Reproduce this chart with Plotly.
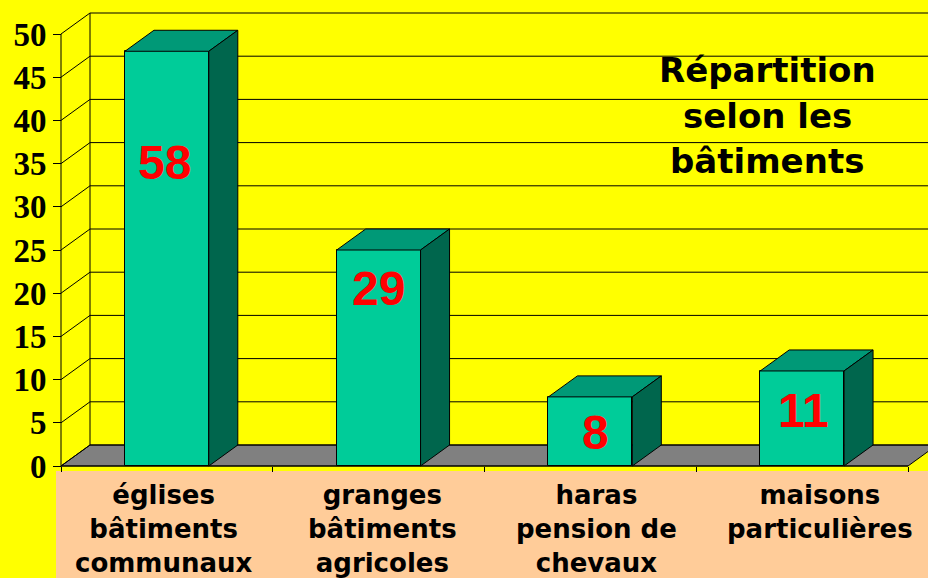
import plotly.graph_objects as go

# ---- data ----
CATEGORIES = ["églises<br>bâtiments<br>communaux",
              "granges<br>bâtiments<br>agricoles",
              "haras<br>pension de<br>chevaux",
              "maisons<br>particulières"]
BAR_VALUES = [48, 25, 8, 11]
BAR_LABELS = ["58", "29", "8", "11"]
Y_TICKS = [0, 5, 10, 15, 20, 25, 30, 35, 40, 45, 50]
TITLE_LINES = ["Répartition", "selon les", "bâtiments"]

# ---- geometry / style ----
W, H = 928, 578
ML, MR, MT, MB = 58, 0, 12, 110
PX_CAT = 211.75          # px per category
PX_Y = 8.64              # px per y unit
DX = 29 / PX_CAT         # depth offset (x units)
DY = 21 / PX_Y           # depth offset (y units)
BAR_W = 0.396
plot_w = W - ML - MR
plot_h = H - MT - MB
x0 = -0.5 - 3 / PX_CAT
x1 = x0 + plot_w / PX_CAT
y0 = -2 / PX_Y
y1 = y0 + plot_h / PX_Y

FRONT = "#00CC99"
TOP = "#009977"
SIDE = "#00664D"
YELLOW = "#FFFF00"
PEACH = "#FFCC99"
FLOOR = "#808080"
LABEL_DROP = [12.9, 4.4, 4.1, 4.6]
LABEL_XSHIFT = [-2, 0, 5, 1]
CAT_XSHIFT = [-3, 4, 6, 18]
TITLE_Y_PX = [70, 116, 161]

xs = list(range(len(BAR_VALUES)))
xmin_cat, xmax_cat = -0.5, len(BAR_VALUES) - 0.5

fig = go.Figure()

shapes = []
# peach label band
shapes.append(dict(type="rect", xref="paper", yref="paper",
                   x0=(56 - ML) / plot_w, x1=1.05,
                   y0=-(3 / plot_h), y1=-0.4,
                   fillcolor=PEACH, line=dict(width=0), layer="below"))
# floor
shapes.append(dict(type="path", xref="x", yref="y",
                   path=f"M {xmin_cat},0 L {xmax_cat},0 L {xmax_cat+DX},{DY} L {xmin_cat+DX},{DY} Z",
                   fillcolor=FLOOR, line=dict(color="black", width=1), layer="below"))
# back wall gridlines + left wall diagonals
for t in Y_TICKS:
    shapes.append(dict(type="line", xref="x", yref="y",
                       x0=xmin_cat + DX, x1=xmax_cat + DX + 1, y0=t + DY, y1=t + DY,
                       line=dict(color="black", width=1), layer="below"))
    shapes.append(dict(type="line", xref="x", yref="y",
                       x0=xmin_cat, x1=xmin_cat + DX, y0=t, y1=t + DY,
                       line=dict(color="black", width=1), layer="below"))
# left wall back edge and front axis line
shapes.append(dict(type="line", xref="x", yref="y",
                   x0=xmin_cat + DX, x1=xmin_cat + DX, y0=DY, y1=Y_TICKS[-1] + DY,
                   line=dict(color="black", width=1), layer="below"))
shapes.append(dict(type="line", xref="x", yref="y",
                   x0=xmin_cat, x1=xmin_cat, y0=0, y1=Y_TICKS[-1],
                   line=dict(color="black", width=1), layer="below"))
shapes.append(dict(type="line", xref="x", yref="y",
                   x0=xmin_cat, x1=xmax_cat, y0=0, y1=0,
                   line=dict(color="black", width=1), layer="below"))

# front faces
fig.add_trace(go.Bar(x=xs, y=BAR_VALUES, width=BAR_W,
                     marker=dict(color=FRONT, line=dict(color="black", width=1)),
                     hoverinfo="skip", showlegend=False))

# top and side faces
for x, v in zip(xs, BAR_VALUES):
    l, r = x - BAR_W / 2, x + BAR_W / 2
    fig.add_trace(go.Scatter(x=[l, l + DX, r + DX, r, l], y=[v, v + DY, v + DY, v, v],
                             mode="lines", fill="toself", fillcolor=TOP,
                             line=dict(color="black", width=1),
                             hoverinfo="skip", showlegend=False))
    fig.add_trace(go.Scatter(x=[r, r, r + DX, r + DX, r], y=[0, v, v + DY, DY, 0],
                             mode="lines", fill="toself", fillcolor=SIDE,
                             line=dict(color="black", width=1),
                             hoverinfo="skip", showlegend=False))

annotations = []
for x, v, lab, d, xs_ in zip(xs, BAR_VALUES, BAR_LABELS, LABEL_DROP, LABEL_XSHIFT):
    annotations.append(dict(x=x, y=v - d, xref="x", yref="y", text=f"<b>{lab}</b>",
                            showarrow=False, xanchor="center", yanchor="middle", xshift=xs_,
                            font=dict(family="Liberation Sans", size=48, color="#FF0000")))
for x, cat, cs in zip(xs, CATEGORIES, CAT_XSHIFT):
    annotations.append(dict(x=x, y=0, xref="x", yref="y", text=f"<b>{cat}</b>",
                            showarrow=False, xanchor="center", yanchor="top",
                            yshift=-12, xshift=cs,
                            font=dict(family="DejaVu Sans", size=26, color="black")))
for line, ypx in zip(TITLE_LINES, TITLE_Y_PX):
    annotations.append(dict(x=(767 - ML) / plot_w, y=(H - MB - ypx) / plot_h,
                            xref="paper", yref="paper",
                            text=f"<b>{line}</b>",
                            showarrow=False, xanchor="center", yanchor="middle",
                            font=dict(family="DejaVu Sans", size=34, color="black")))

fig.update_layout(
    width=W, height=H,
    margin=dict(l=ML, r=MR, t=MT, b=MB, pad=0, autoexpand=False),
    paper_bgcolor=YELLOW, plot_bgcolor=YELLOW,
    shapes=shapes, annotations=annotations,
    xaxis=dict(range=[x0, x1], showgrid=False, zeroline=False, showline=False,
               tickvals=[i - 0.5 for i in range(len(xs) + 1)],
               ticktext=[""] * (len(xs) + 1),
               ticks="outside", ticklen=5, tickcolor="black", tickwidth=1,
               anchor="free", position=2 / plot_h, automargin=False),
    yaxis=dict(range=[y0, y1], showgrid=False, zeroline=False, showline=False,
               tickvals=Y_TICKS, ticks="outside", ticklen=8, tickcolor="black",
               tickwidth=1, ticklabelstandoff=0, automargin=False,
               tickfont=dict(family="Liberation Serif", size=33, color="black", weight="bold"),
               anchor="free", position=3 / plot_w),
    bargap=0,
)

fig.write_html("out.html", config={"displayModeBar": False},
               post_script="document.body.style.margin='0';document.body.style.background='#FFFF00';")
